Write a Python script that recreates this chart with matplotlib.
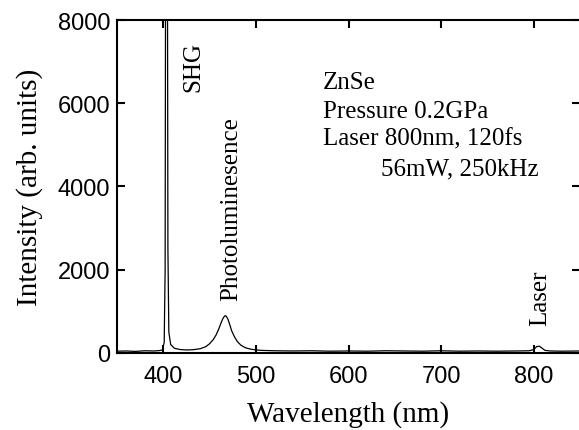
import matplotlib
matplotlib.use("Agg")
import matplotlib.pyplot as plt

# Spectrum (wavelength in nm, intensity in arb. units)
wavelength = [350, 360, 370, 380, 390, 396, 399, 401, 402, 402.5, 404.5, 405, 406,
              408, 412, 418, 425, 432, 440, 446, 450, 454, 457, 460, 462, 464,
              466, 467, 468, 470, 472, 474, 477, 480, 484, 489, 495, 505, 520,
              540, 560, 580, 600, 620, 640, 660, 680, 700, 720, 740, 760, 780,
              795, 800, 803, 806, 809, 812, 818, 830, 850]
intensity = [40, 45, 35, 50, 45, 55, 70, 250, 2000, 9500, 9500, 2500, 500,
             200, 110, 80, 70, 75, 100, 150, 220, 320, 430, 580, 700, 810,
             880, 895, 880, 800, 660, 520, 380, 270, 180, 120, 85, 60, 50,
             45, 50, 40, 45, 40, 50, 45, 40, 50, 40, 45, 40, 45,
             50, 80, 150, 160, 110, 60, 45, 40, 45]

x_ticks = [400, 500, 600, 700, 800]
y_ticks = [0, 2000, 4000, 6000, 8000]

peak_labels = ["SHG", "Photoluminesence", "Laser"]
info_lines = ["ZnSe", "Pressure 0.2GPa", "Laser 800nm, 120fs", "56mW, 250kHz"]

serif = ["Liberation Serif", "DejaVu Serif"]
sans = ["Liberation Sans", "DejaVu Sans"]

fig = plt.figure(figsize=(5.79, 4.31), dpi=100)
ax = fig.add_axes([0.202, 0.179, 0.800, 0.772])
ax.plot(wavelength, intensity, color="black", lw=0.9)
ax.set_xlim(350, 850)
ax.set_ylim(0, 8000)
ax.set_xticks(x_ticks)
ax.set_yticks(y_ticks)
ax.tick_params(direction="in", length=6, width=1.5, top=True, right=True,
               labelsize=17)
ax.tick_params(axis="x", pad=9)
ax.tick_params(axis="y", pad=5)
for lab in ax.get_xticklabels() + ax.get_yticklabels():
    lab.set_family(sans)
for s in ax.spines.values():
    s.set_linewidth(1.5)

ax.set_xlabel("Wavelength (nm)", family=serif, fontsize=21, labelpad=9)
ax.set_ylabel("Intensity (arb. units)", family=serif, fontsize=21, labelpad=10)

ax.text(433, 7500, peak_labels[0], rotation=90, ha="center", va="top",
        family=serif, fontsize=18)
ax.text(473, 1280, peak_labels[1], rotation=90, ha="center", va="bottom",
        family=serif, fontsize=18)
ax.text(807, 680, peak_labels[2], rotation=90, ha="center", va="bottom",
        family=serif, fontsize=18)

ys = [6357, 5680, 5000, 4300]
xs = [572, 572, 572, 635]
for t, x, y in zip(info_lines, xs, ys):
    ax.text(x, y, t, ha="left", va="baseline", family=serif, fontsize=18)

fig.savefig("out.png", dpi=100)
